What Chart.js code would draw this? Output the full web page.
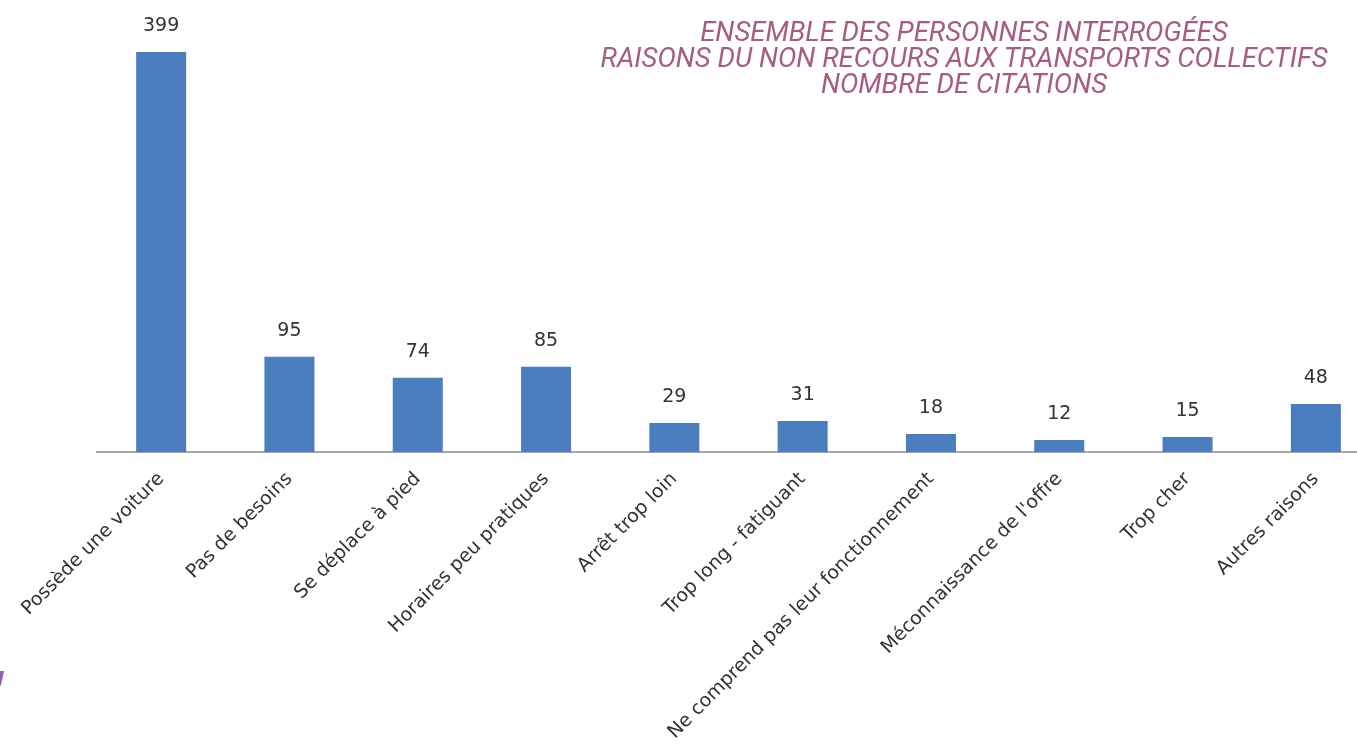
<!DOCTYPE html>
<html>
<head>
<meta charset="utf-8">
<script src="https://cdn.jsdelivr.net/npm/chart.js@4/dist/chart.umd.min.js"></script>
<style>
html,body{margin:0;padding:0;background:#fff;overflow:hidden;}
#wrap{position:absolute;left:0;top:0;width:1380px;height:754px;}
</style>
</head>
<body>
<div id="wrap"><canvas id="c"></canvas></div>
<script>
const categories = ["Possède une voiture","Pas de besoins","Se déplace à pied","Horaires peu pratiques","Arrêt trop loin","Trop long - fatiguant","Ne comprend pas leur fonctionnement","Méconnaissance de l'offre","Trop cher","Autres raisons"];
const citations = [399,95,74,85,29,31,18,12,15,48];
const titleLines = ["ENSEMBLE DES PERSONNES INTERROGÉES","RAISONS DU NON RECOURS AUX TRANSPORTS COLLECTIFS","NOMBRE DE CITATIONS"];

const labelFont = "'DejaVu Sans', sans-serif";

const decor = {
  id:'decor',
  afterDatasetsDraw(chart){
    const ctx = chart.ctx;
    const meta = chart.getDatasetMeta(0);
    ctx.save();
    ctx.fillStyle = '#333333';
    ctx.font = "19px " + labelFont;
    ctx.textAlign = 'center';
    ctx.textBaseline = 'bottom';
    meta.data.forEach((bar,i)=>{
      ctx.fillText(String(citations[i]), bar.x, bar.y - 16);
    });
    ctx.restore();
  },
  afterDraw(chart){
    const ctx = chart.ctx;
    ctx.save();
    ctx.fillStyle = '#a65d80';
    ctx.font = "italic 27.5px Roboto, sans-serif";
    ctx.textAlign = 'center';
    ctx.textBaseline = 'middle';
    titleLines.forEach((t,i)=>{ ctx.fillText(t, 964, 34 + i*26); });
    // small purple decoration at lower-left edge
    ctx.fillStyle = '#9b59b6';
    ctx.beginPath();
    ctx.moveTo(0,671); ctx.lineTo(4,671); ctx.lineTo(1,685); ctx.lineTo(0,686);
    ctx.closePath(); ctx.fill();
    ctx.restore();
  }
};

new Chart(document.getElementById('c'), {
  type:'bar',
  data:{
    labels: categories,
    datasets:[{
      data: citations,
      backgroundColor:'#4a7ebf',
      borderWidth:0,
      barPercentage:0.39,
      categoryPercentage:1.0
    }]
  },
  options:{
    responsive:true,
    maintainAspectRatio:false,
    animation:false,
    layout:{padding:{left:97,right:0,top:31,bottom:0}},
    plugins:{legend:{display:false},tooltip:{enabled:false},title:{display:false}},
    scales:{
      x:{
        grid:{display:false, drawTicks:false},
        border:{display:true,color:'#a6a6a6',width:2},
        ticks:{
          color:'#333333',
          font:{family:labelFont,size:19},
          maxRotation:45,minRotation:45,
          autoSkip:false,
          padding:16
        },
        afterFit(scale){ scale.height = 302; }
      },
      y:{
        display:false,
        min:0,max:420,
        grid:{display:false}
      }
    }
  },
  plugins:[decor]
});
</script>
</body>
</html>
